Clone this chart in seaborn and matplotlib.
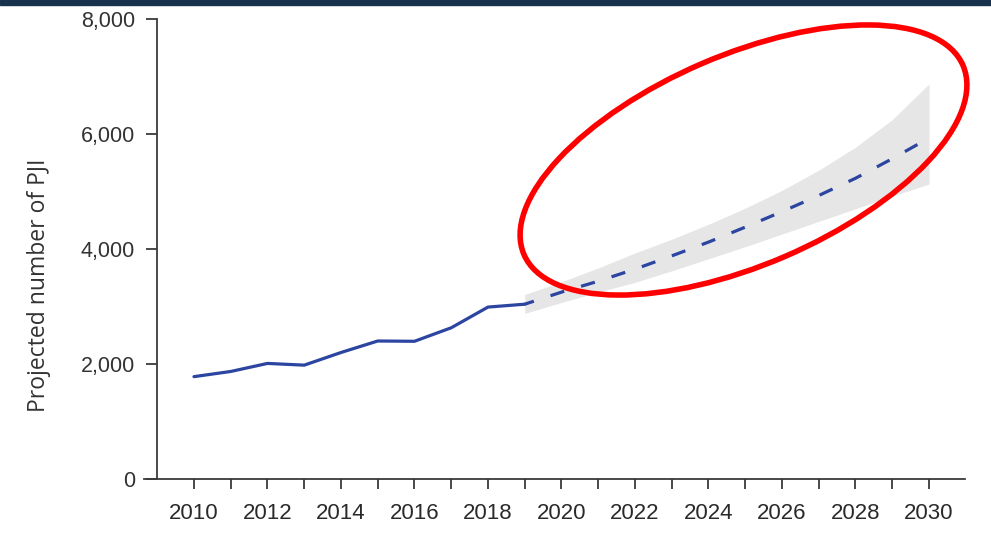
import matplotlib
matplotlib.use("Agg")
import matplotlib.pyplot as plt
import matplotlib.ticker as mticker
from matplotlib.patches import Ellipse, Rectangle
from matplotlib.transforms import IdentityTransform
import seaborn as sns
import pandas as pd

# ---- data ----
hist_years = [2010, 2011, 2012, 2013, 2014, 2015, 2016, 2017, 2018, 2019]
hist_values = [1780, 1870, 2010, 1980, 2200, 2400, 2395, 2630, 2990, 3040]

proj_years = [2019, 2020, 2021, 2022, 2023, 2024, 2025, 2026, 2027, 2028, 2029, 2030]
proj_values = [3040, 3250, 3440, 3650, 3880, 4120, 4380, 4650, 4930, 5230, 5570, 5930]
proj_upper = [3210, 3430, 3670, 3930, 4170, 4430, 4710, 5020, 5370, 5770, 6250, 6870]
proj_lower = [2880, 3070, 3250, 3420, 3620, 3830, 4040, 4260, 4480, 4700, 4920, 5130]

y_ticks = [0, 2000, 4000, 6000, 8000]
x_label_years = list(range(2010, 2031, 2))
y_label = "Projected number of PJI"

hist_df = pd.DataFrame({"year": hist_years, "value": hist_values})
proj_df = pd.DataFrame({"year": proj_years, "value": proj_values})

sns.set_theme(style="white")
plt.rcParams["font.family"] = ["Liberation Sans", "DejaVu Sans"]

W, H = 991, 538
fig = plt.figure(figsize=(W / 100, H / 100), dpi=100)
ax = fig.add_axes([144 / W, (H - 479) / H, 821 / W, 460 / H])

line_color = "#2b45a0"
ax.fill_between(proj_years, proj_lower, proj_upper, color="#e6e6e6", linewidth=0, zorder=1)
sns.lineplot(data=hist_df, x="year", y="value", ax=ax, color=line_color, linewidth=2.3, zorder=3)
sns.lineplot(data=proj_df, x="year", y="value", ax=ax, color=line_color, linewidth=2.3,
             linestyle=(1.5, (4.5, 5.5)), zorder=3)

ax.set_xlim(2008.64, 2030.98)
ax.set_ylim(0, 8000)

for s in ["top", "right"]:
    ax.spines[s].set_visible(False)
ax.spines["left"].set_position(("data", 2009.0))
ax.spines["left"].set_bounds(0, 8000)
for s in ["left", "bottom"]:
    ax.spines[s].set_color("#3a3a3a")
    ax.spines[s].set_linewidth(1.3)

ax.set_yticks(y_ticks)
ax.yaxis.set_major_formatter(mticker.FuncFormatter(lambda v, p: f"{int(v):,}"))
ax.set_xticks(list(range(2010, 2031)))
ax.set_xticklabels([str(y) if y in x_label_years else "" for y in range(2010, 2031)])

ax.tick_params(axis="y", direction="out", length=8, width=1.3, color="#3a3a3a",
               labelsize=15.5, labelcolor="#333333", pad=8, left=True)
ax.tick_params(axis="x", direction="out", length=7.5, width=1.3, color="#3a3a3a",
               labelsize=16, labelcolor="#2a2a2a", pad=10, bottom=True)

ax.set_xlabel("")
ax.set_ylabel(y_label, fontsize=16.5, color="#333333", family=["Open Sans", "DejaVu Sans"])
ax.yaxis.set_label_coords(-0.113, 0.42)

# red highlight ellipse (annotation, pixel coordinates)
ell = Ellipse((743.5, H - 160), width=478, height=210, angle=23.3, fill=False,
              edgecolor="#ff0000", linewidth=4, transform=IdentityTransform(), zorder=10)
fig.patches.append(ell)

# top dark banner strip
fig.patches.append(Rectangle((0, 1 - 5 / H), 1, 5 / H, transform=fig.transFigure,
                             color="#18324d", zorder=0))

fig.savefig("out.png", dpi=100)
